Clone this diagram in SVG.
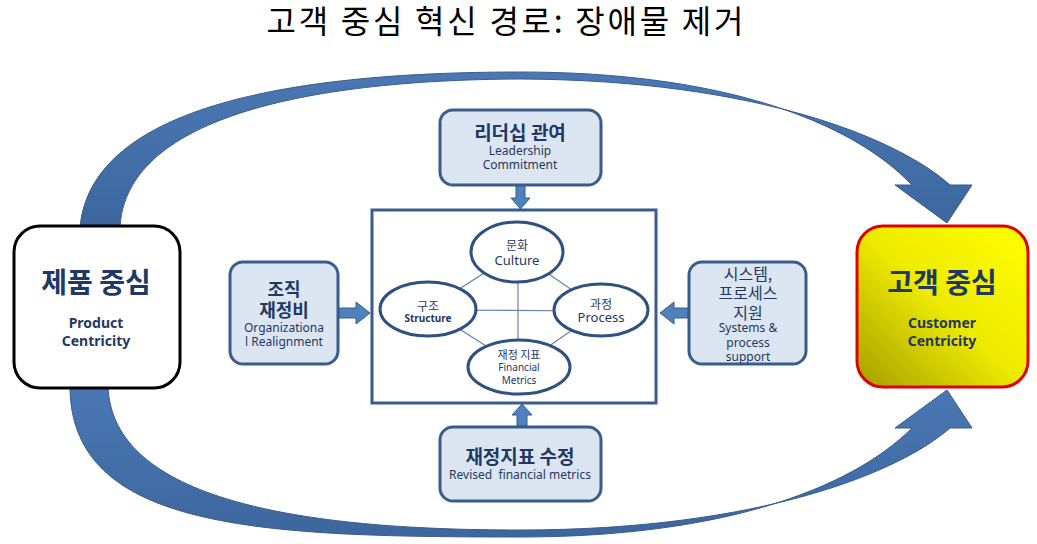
<svg xmlns="http://www.w3.org/2000/svg" width="1037" height="544" viewBox="0 0 1037 544">
<defs>
<linearGradient id="yel" x1="1" y1="0" x2="0" y2="1">
<stop offset="0" stop-color="#ffff00"/>
<stop offset="0.5" stop-color="#eeea00"/>
<stop offset="1" stop-color="#a49e00"/>
</linearGradient>
<linearGradient id="band" x1="0" y1="0" x2="0" y2="1">
<stop offset="0" stop-color="#4a78b4"/>
<stop offset="1" stop-color="#3d669e"/>
</linearGradient>
<style>
.t{font-family:"Noto Sans CJK KR","Noto Sans",sans-serif;text-anchor:middle}
.e{font-family:"Noto Sans","Noto Sans CJK KR",sans-serif;text-anchor:middle}
.bk{font-weight:bold;fill:#1f3864}
.sb{fill:#1f3864}
.blue{fill:#dce6f2;stroke:#385d8a;stroke-width:3}
.ell{fill:#ffffff;stroke:#2f5181;stroke-width:3}
.ln{stroke:#6b82a8;stroke-width:1.2;fill:none}
.blk{fill:#4f81bd;stroke:#385d8a;stroke-width:1}
.arc{fill:url(#band);stroke:#385d8a;stroke-width:1}
</style>
</defs>
<rect width="1037" height="544" fill="#ffffff"/>
<text x="505" y="33" class="t" font-size="32" fill="#000000" textLength="477" lengthAdjust="spacing">고객 중심 혁신 경로: 장애물 제거</text>

<g id="core">
<rect x="372" y="210" width="284" height="193" fill="#ffffff" stroke="#385d8a" stroke-width="3"/>
</g>

<g id="connectors">
<path id="arc-top" class="arc" d="M80,228 C90,110 280,72 520,72 C720,72 850,120 912,185 L895,185 L947,223 L972,185 L950,185 C900,140 760,80 520,79 C300,80 125,120 120,228 Z"/>
<path id="arc-bottom" class="arc" d="M70,386 C70,530 260,537 520,537 C720,537 850,490 912,428 L895,428 L947,390 L972,428 L950,428 C900,472 760,530 520,530 C300,530 112,500 108,386 Z"/>
<path id="arr-lead" class="blk" d="M516,185 L525,185 L525,198 L530,198 L520.5,209 L511,198 L516,198 Z"/>
<path id="arr-fin" class="blk" d="M517,426 L527,426 L527,415 L532,415 L522,404 L512,415 L517,415 Z"/>
<path id="arr-org" class="blk" d="M339,308 L356,308 L356,302 L370,313 L356,324 L356,318 L339,318 Z"/>
<path id="arr-sys" class="blk" d="M688,308 L674,308 L674,302 L660,313 L674,324 L674,318 L688,318 Z"/>
<line class="ln" x1="517" y1="252" x2="428" y2="309"/>
<line class="ln" x1="517" y1="252" x2="601" y2="310"/>
<line class="ln" x1="428" y1="309" x2="519" y2="367"/>
<line class="ln" x1="601" y1="310" x2="519" y2="367"/>
<line class="ln" x1="428" y1="310" x2="601" y2="311"/>
<line class="ln" x1="518" y1="252" x2="518" y2="367"/>
</g>

<g id="product">
<rect x="14" y="226" width="166" height="162" rx="26" fill="#ffffff" stroke="#000000" stroke-width="3"/>
<text x="96" y="293" class="t bk" font-size="28">제품 중심</text>
<text x="96" y="328" class="e bk" font-size="14">Product</text>
<text x="96" y="346" class="e bk" font-size="14">Centricity</text>
</g>

<g id="customer">
<rect x="857" y="226" width="171" height="161" rx="26" fill="url(#yel)" stroke="#e00000" stroke-width="3"/>
<text x="942" y="293" class="t bk" font-size="28">고객 중심</text>
<text x="942" y="328" class="e bk" font-size="14">Customer</text>
<text x="942" y="346" class="e bk" font-size="14">Centricity</text>
</g>

<g id="leadership">
<rect x="440" y="110" width="161" height="75" rx="13" class="blue"/>
<text x="520" y="140" class="t bk" font-size="19">리더십 관여</text>
<text x="520" y="155" class="e sb" font-size="12">Leadership</text>
<text x="520" y="169" class="e sb" font-size="12">Commitment</text>
</g>

<g id="org">
<rect x="230" y="262" width="108" height="102" rx="13" class="blue"/>
<text x="284" y="296" class="t bk" font-size="18">조직</text>
<text x="284" y="317" class="t bk" font-size="18">재정비</text>
<text x="284" y="332" class="e sb" font-size="12">Organizationa</text>
<text x="284" y="346" class="e sb" font-size="12">l Realignment</text>
</g>

<g id="systems">
<rect x="689" y="262" width="117" height="102" rx="13" class="blue"/>
<text x="748" y="280" class="t sb" font-size="16">시스템,</text>
<text x="748" y="299" class="t sb" font-size="16">프로세스</text>
<text x="748" y="319" class="t sb" font-size="16">지원</text>
<text x="748" y="332" class="e sb" font-size="12">Systems &amp;</text>
<text x="748" y="347" class="e sb" font-size="12">process</text>
<text x="748" y="361" class="e sb" font-size="12">support</text>
</g>

<g id="revised">
<rect x="440" y="427" width="161" height="74" rx="13" class="blue"/>
<text x="520" y="464" class="t bk" font-size="19">재정지표 수정</text>
<text x="520" y="479" class="e sb" font-size="12" xml:space="preserve">Revised  financial metrics</text>
</g>

<g id="culture">
<ellipse cx="517" cy="252" rx="46" ry="30" class="ell"/>
<text x="517" y="250" class="t sb" font-size="12">문화</text>
<text x="517" y="265" class="e sb" font-size="13">Culture</text>
</g>
<g id="structure">
<ellipse cx="428" cy="309" rx="48" ry="27" class="ell"/>
<text x="428" y="311" class="t sb" font-size="12">구조</text>
<text x="428" y="322" class="e bk" font-size="10">Structure</text>
</g>
<g id="process">
<ellipse cx="601" cy="310" rx="47" ry="26" class="ell"/>
<text x="601" y="309" class="t sb" font-size="12">과정</text>
<text x="601" y="322" class="e sb" font-size="13">Process</text>
</g>
<g id="financial">
<ellipse cx="519" cy="367" rx="51" ry="27" class="ell"/>
<text x="519" y="359" class="t sb" font-size="11">재정 지표</text>
<text x="519" y="371" class="e sb" font-size="10">Financial</text>
<text x="519" y="384" class="e sb" font-size="10">Metrics</text>
</g>
</svg>
